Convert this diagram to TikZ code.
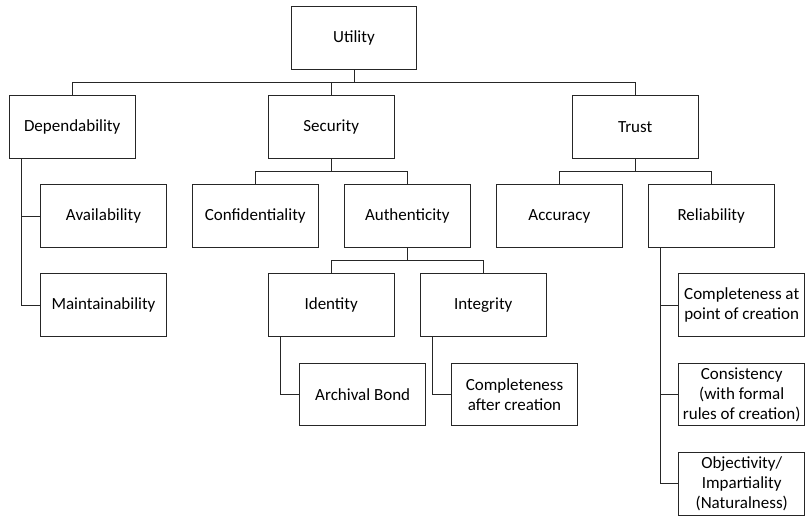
\documentclass[tikz,border=0pt]{standalone}
\usepackage{fontspec}
\setmainfont{Carlito}
\begin{document}
\begin{tikzpicture}[x=1pt,y=-1pt]
    \tikzset{box/.style={draw=black!85, line width=0.9pt, minimum width=125.7pt, minimum height=62.7pt,
        inner sep=0.5pt, align=center, font=\fontsize{17}{20}\selectfont},
      link/.style={draw=black!85, line width=0.9pt}}
    \useasboundingbox (0,0) rectangle (807,518);
    % top
    \node [box] (util) at (354,38) {Utility};
    % first level
    \node [box] (dep) at (72.2,127) {Dependability};
    \node [box] (sec) at (331.2,127) {Security};
    \node [box] (trust) at (635.2,127) {Trust};
    % second level
    \node [box] (avail) at (103.5,216.2) {Availability};
    \node [box] (maint) at (103.5,305.3) {Maintainability};
    \node [box] (conf) at (255.3,216.2) {Confidentiality};
    \node [box] (auth) at (407.3,216.2) {Authenticity};
    \node [box] (acc) at (559.3,216.2) {Accuracy};
    \node [box] (rel) at (711.2,216.2) {Reliability};
    % third level
    \node [box] (ident) at (331.2,305.3) {Identity};
    \node [box] (integ) at (483.3,305.3) {Integrity};
    \node [box] (bond) at (362.7,394.5) {Archival Bond};
    \node [box] (after) at (514.5,394.5) {Completeness\\after creation};
    \node [box] (point) at (741.7,305.3) {Completeness at\\point of creation};
    \node [box] (cons) at (741.7,394.5) {Consistency\\(with formal\\rules of creation)};
    \node [box] (obj) at (741.7,483.8) {Objectivity/\\Impartiality\\(Naturalness)};
    % buses
    \coordinate (bus0) at (354,82.6);
    \coordinate (bus1) at (331.2,171.6);
    \coordinate (bus2) at (635.2,171.6);
    \coordinate (bus3) at (407.3,260.8);
    \draw [link] (util.south) -- (bus0) -| (dep.north);
    \draw [link] (bus0) -| (sec.north);
    \draw [link] (bus0) -| (trust.north);
    \draw [link] (sec.south) -- (bus1) -| (conf.north);
    \draw [link] (bus1) -| (auth.north);
    \draw [link] (trust.south) -- (bus2) -| (acc.north);
    \draw [link] (bus2) -| (rel.north);
    \draw [link] (auth.south) -- (bus3) -| (ident.north);
    \draw [link] (bus3) -| (integ.north);
    % side links
    \draw [link] ([xshift=12.7pt]dep.south west) |- (avail.west);
    \draw [link] ([xshift=12.7pt]dep.south west) |- (maint.west);
    \draw [link] ([xshift=12.9pt]ident.south west) |- (bond.west);
    \draw [link] ([xshift=12.9pt]integ.south west) |- (after.west);
    \draw [link] ([xshift=12.4pt]rel.south west) |- (point.west);
    \draw [link] ([xshift=12.4pt]rel.south west) |- (cons.west);
    \draw [link] ([xshift=12.4pt]rel.south west) |- (obj.west);
\end{tikzpicture}
\end{document}
